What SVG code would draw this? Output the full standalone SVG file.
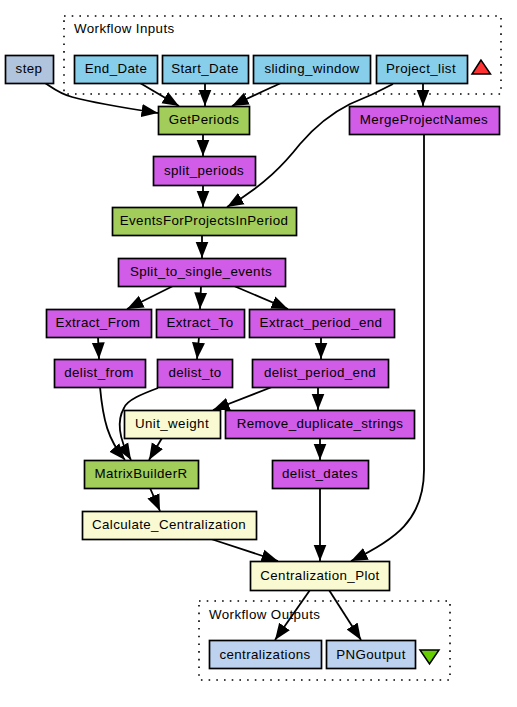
<svg xmlns="http://www.w3.org/2000/svg" width="517" height="707" viewBox="0 0 517 707">
<style>
text{font-family:"Liberation Sans",Arial,sans-serif;font-size:13.33px;letter-spacing:.4px;fill:#000;text-anchor:middle}
.n rect{stroke:#000;stroke-width:1.7;transform:translate(.5px,.5px)}
.in{fill:#87ceeb}.step{fill:#b0c4de}.g{fill:#a2cd5a}.p{fill:#d05ce8}.y{fill:#fafad2}.o{fill:#bcd2ee}
.c{fill:none;stroke:#000;stroke-width:1.6;stroke-dasharray:1.6 6.1}
#connectors path{fill:none;stroke:#000;stroke-width:1.8;marker-end:url(#a)}
.l{text-anchor:start}
</style>
<defs><marker id="a" markerUnits="userSpaceOnUse" markerWidth="18" markerHeight="14" refX="16.500" refY="7" orient="auto"><path d="M0,.5L16.500,7L0,13.500Z" fill="#000"/></marker></defs>
<rect width="517" height="707" fill="#fff"/>
<g id="cluster-inputs"><rect class="c" x="64" y="16" width="437" height="78"/><text class="l" x="74" y="33">Workflow Inputs</text></g>
<g id="cluster-outputs"><rect class="c" x="199" y="601" width="251" height="79"/><text class="l" x="209" y="619">Workflow Outputs</text></g>
<g id="connectors">
<path d="M45,83C54,89 60,94 72,97C98,104 125,108 158,113"/>
<path d="M140,83L179,106"/>
<path d="M205,83V106"/>
<path d="M281,83C268,89 250,97 232,106"/>
<path d="M423,83V106"/>
<path d="M203,134V156"/>
<path d="M203,185V207"/>
<path d="M393,84C380,91 365,98 350,104C328,115 312,130 300,144C285,163 265,185 227,207"/>
<path d="M202,235V258"/>
<path d="M173,286L127,309"/>
<path d="M201,286L200,309"/>
<path d="M234,286L288,309"/>
<path d="M98,337L99,359"/>
<path d="M199,337L197,359"/>
<path d="M321,337V359"/>
<path d="M100,387C103,420 108,440 125,460"/>
<path d="M158,388C142,394 127,400 124,408C117,420 118,438 131,460"/>
<path d="M272,387L213,410"/>
<path d="M318,387V410"/>
<path d="M162,438L149,460"/>
<path d="M320,438V460"/>
<path d="M150,488L160,511"/>
<path d="M320,488V561"/>
<path d="M424,134V470C424,520 395,540 351,561"/>
<path d="M211,539L278,561"/>
<path d="M310,590L275,640"/>
<path d="M329,590L361,640"/>
</g>
<g class="n" id="step"><rect class="step" x="5" y="55" width="48" height="28"/><text x="29" y="73">step</text></g>
<g class="n" id="End_Date"><rect class="in" x="74" y="55" width="83" height="28"/><text x="116" y="73">End_Date</text></g>
<g class="n" id="Start_Date"><rect class="in" x="162" y="55" width="86" height="28"/><text x="205" y="73">Start_Date</text></g>
<g class="n" id="sliding_window"><rect class="in" x="253" y="55" width="117" height="28"/><text x="312" y="73">sliding_window</text></g>
<g class="n" id="Project_list"><rect class="in" x="376" y="55" width="91" height="28"/><text x="421" y="73">Project_list</text></g>
<polygon id="inputs-marker" points="481,60 472,74 490.500,74" fill="#ff3333" stroke="#000" stroke-width="1.500"/>
<g class="n" id="GetPeriods"><rect class="g" x="158" y="106" width="91" height="28"/><text x="204" y="124">GetPeriods</text></g>
<g class="n" id="MergeProjectNames"><rect class="p" x="349" y="106" width="150" height="28"/><text x="424" y="124">MergeProjectNames</text></g>
<g class="n" id="split_periods"><rect class="p" x="153" y="156" width="102" height="29"/><text x="204" y="175">split_periods</text></g>
<g class="n" id="EventsForProjectsInPeriod"><rect class="g" x="112" y="207" width="184" height="28"/><text x="204" y="225">EventsForProjectsInPeriod</text></g>
<g class="n" id="Split_to_single_events"><rect class="p" x="118" y="258" width="167" height="28"/><text x="201" y="276">Split_to_single_events</text></g>
<g class="n" id="Extract_From"><rect class="p" x="46" y="309" width="105" height="28"/><text x="98" y="327">Extract_From</text></g>
<g class="n" id="Extract_To"><rect class="p" x="156" y="309" width="88" height="28"/><text x="200" y="327">Extract_To</text></g>
<g class="n" id="Extract_period_end"><rect class="p" x="249" y="309" width="145" height="28"/><text x="321" y="327">Extract_period_end</text></g>
<g class="n" id="delist_from"><rect class="p" x="54" y="359" width="91" height="28"/><text x="99" y="377">delist_from</text></g>
<g class="n" id="delist_to"><rect class="p" x="157" y="359" width="75" height="28"/><text x="195" y="377">delist_to</text></g>
<g class="n" id="delist_period_end"><rect class="p" x="252" y="359" width="136" height="28"/><text x="320" y="377">delist_period_end</text></g>
<g class="n" id="Unit_weight"><rect class="y" x="124" y="410" width="96" height="28"/><text x="172" y="428">Unit_weight</text></g>
<g class="n" id="Remove_duplicate_strings"><rect class="p" x="225" y="410" width="189" height="28"/><text x="320" y="428">Remove_duplicate_strings</text></g>
<g class="n" id="MatrixBuilderR"><rect class="g" x="84" y="460" width="114" height="28"/><text x="141" y="478">MatrixBuilderR</text></g>
<g class="n" id="delist_dates"><rect class="p" x="272" y="460" width="96" height="28"/><text x="320" y="478">delist_dates</text></g>
<g class="n" id="Calculate_Centralization"><rect class="y" x="82" y="511" width="174" height="28"/><text x="169" y="529">Calculate_Centralization</text></g>
<g class="n" id="Centralization_Plot"><rect class="y" x="250" y="561" width="139" height="29"/><text x="320" y="580">Centralization_Plot</text></g>
<g class="n" id="centralizations"><rect class="o" x="209" y="640" width="112" height="28"/><text x="265" y="659">centralizations</text></g>
<g class="n" id="PNGoutput"><rect class="o" x="326" y="640" width="89" height="28"/><text x="371" y="659">PNGoutput</text></g>
<polygon id="outputs-marker" points="420,650 439,650 429.500,664" fill="#66cd00" stroke="#000" stroke-width="1.500"/>
</svg>
